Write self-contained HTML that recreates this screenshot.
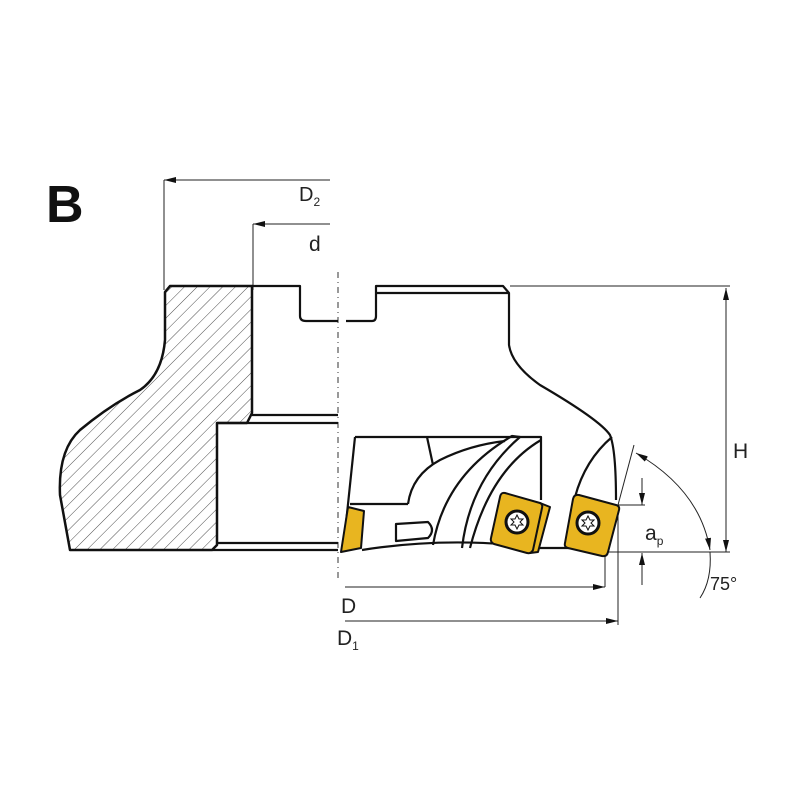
<!DOCTYPE html>
<html><head><style>body{margin:0;background:#fff}svg{display:block}</style></head>
<body>
<svg width="800" height="800" viewBox="0 0 800 800" xmlns="http://www.w3.org/2000/svg" font-family="Liberation Sans, sans-serif">
<defs>
<pattern id="h" patternUnits="userSpaceOnUse" width="9" height="9" patternTransform="rotate(45)">
<line x1="0" y1="0" x2="0" y2="9" stroke="#222" stroke-width="0.8"/>
</pattern>
<marker id="a" markerWidth="12" markerHeight="6" refX="12" refY="3" orient="auto-start-reverse" markerUnits="userSpaceOnUse"><path d="M0,0 L12,3 L0,6 Z" fill="#111"/></marker>
</defs>
<text x="46" y="222" font-size="52" font-weight="bold" fill="#111">B</text>

<g stroke="#222" stroke-width="1" fill="none">
<line x1="330" y1="180" x2="164" y2="180" marker-end="url(#a)"/>
<line x1="164" y1="180" x2="164" y2="290"/>
<line x1="330" y1="224" x2="253" y2="224" marker-end="url(#a)"/>
<line x1="253" y1="224" x2="253" y2="290"/>
<line x1="510" y1="286" x2="730" y2="286"/>
<line x1="726" y1="288" x2="726" y2="552" marker-start="url(#a)" marker-end="url(#a)"/>
<line x1="605" y1="552" x2="730" y2="552"/>
<line x1="345" y1="587" x2="605" y2="587" marker-end="url(#a)"/>
<line x1="605" y1="555" x2="605" y2="587"/>
<line x1="345" y1="621" x2="618" y2="621" marker-end="url(#a)"/>
<line x1="618" y1="505" x2="618" y2="625"/>
<line x1="618" y1="505" x2="645" y2="505"/>
<line x1="642" y1="478" x2="642" y2="505" marker-end="url(#a)"/>
<line x1="642" y1="585" x2="642" y2="553" marker-end="url(#a)"/>
<line x1="618" y1="505" x2="634" y2="445"/>
<path d="M636,453 Q700,490 710,550" marker-start="url(#a)" marker-end="url(#a)"/>
<path d="M710,552 Q712,580 700,598"/>
</g>

<text x="299" y="201" font-size="20" fill="#222">D<tspan font-size="12" dy="5">2</tspan></text>
<text x="309" y="251" font-size="21" fill="#222">d</text>
<text x="733" y="458" font-size="21" fill="#222">H</text>
<text x="645" y="540" font-size="21" fill="#222">a<tspan font-size="12" dy="5">p</tspan></text>
<text x="710" y="590" font-size="18" fill="#222">75°</text>
<text x="341" y="613" font-size="21" fill="#222">D</text>
<text x="337" y="645" font-size="21" fill="#222">D<tspan font-size="12" dy="5">1</tspan></text>

<line x1="338" y1="272" x2="338" y2="582" stroke="#333" stroke-width="1" stroke-dasharray="6,4,1,4"/>

<path d="M170,286 L252,286 L252,413 L247,423 L217,423 L217,545 L212,550 L70,550 L60,495 Q58,450 80,430 Q110,405 140,390 Q162,375 165,340 L165,292 Z" fill="url(#h)" stroke="#111" stroke-width="2.5" stroke-linejoin="round"/>

<g stroke="#111" stroke-width="2.2" fill="none" stroke-linejoin="round">
<line x1="252" y1="415" x2="338" y2="415"/>
<line x1="217" y1="423" x2="338" y2="423"/>
<line x1="217" y1="543" x2="338" y2="543"/>
<line x1="212" y1="550" x2="338" y2="550"/>
<path d="M252,286 L300,286 L300,316 Q300,321 306,321 L338,321"/>
<path d="M346,321 L372,321 Q376,321 376,316 L376,286 L503,286 L509,293 L509,345 Q512,365 540,385 Q600,420 610,435 Q616,450 616,500"/>
<line x1="377" y1="293" x2="508" y2="293"/>
<path d="M355,437 L541,437 L541,500"/>
<path d="M355,437 L343,552"/>
<line x1="350" y1="504" x2="408" y2="504"/>
<line x1="427" y1="437" x2="433" y2="465"/>
<path d="M408,504 Q412,475 440,460 Q470,445 505,441"/>
<path d="M433,545 Q445,475 512,436 L520,437 Q470,480 462,548"/>
<path d="M470,548 Q490,470 541,440"/>
<path d="M575,497 Q585,460 612,437"/>
<path d="M362,550 Q450,536 540,548 L600,548"/>
<path d="M396,524 L428,522 Q436,530 428,538 L396,541 Z" fill="#fff"/>
</g>
<g stroke="#111" stroke-width="2" fill="#e8b520" stroke-linejoin="round">
<path d="M348,507 L364,511 L361,548 L341,552 Z"/>
<path d="M540,503 L550,507 L538,552 L530,553 Z"/>
<path d="M505,493 L540,503 Q543,504 542,508 L533,550 Q531,554 527,553 L494,544 Q490,542 491,538 L500,497 Q501,492 505,493 Z"/>
<path d="M579,495 L616,505 Q620,506 619,510 L608,552 Q607,557 602,556 L568,548 Q564,547 565,543 L573,499 Q574,494 579,495 Z"/>
</g>
<g stroke="#111" stroke-width="3" fill="#fff">
<circle cx="517" cy="522" r="11"/><circle cx="588" cy="523" r="11"/>
</g>
<g fill="#fff" stroke="#111" stroke-width="1">
<path d="M517,515 L519,519 L523,519 L520,522 L523,525 L519,525 L517,529 L515,525 L511,525 L514,522 L511,519 L515,519 Z"/>
<path d="M588,516 L590,520 L594,520 L591,523 L594,526 L590,526 L588,530 L586,526 L582,526 L585,523 L582,520 L586,520 Z"/>
</g>
</svg>
</body></html>
